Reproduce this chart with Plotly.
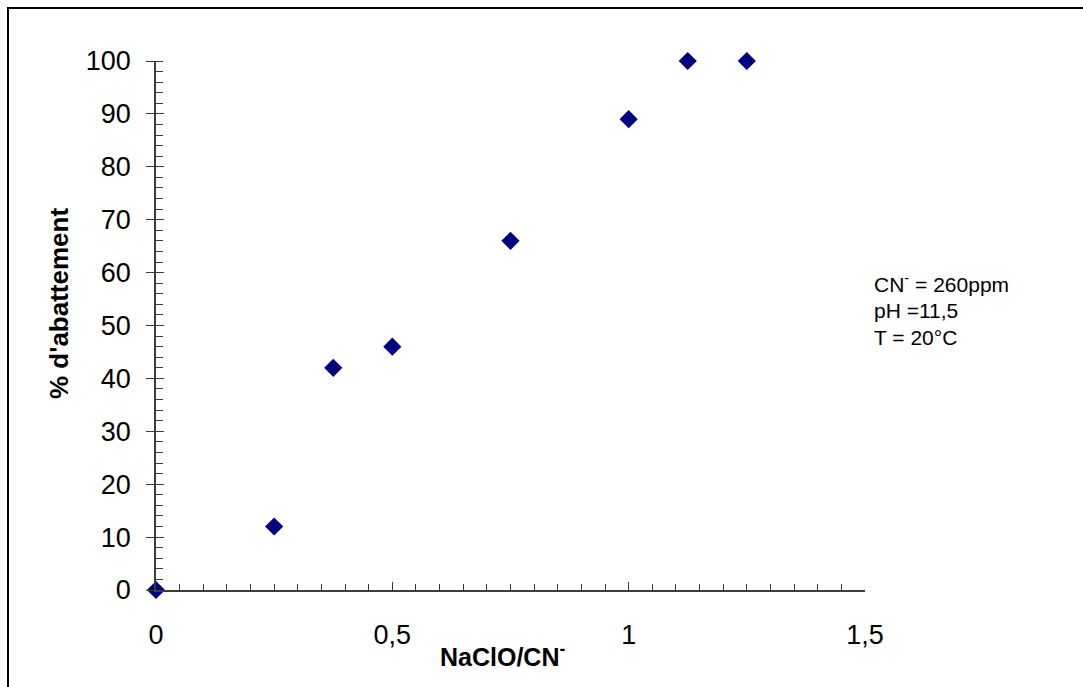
import plotly.graph_objects as go

# Oxidation ratio vs. cyanide removal
ratio = [0, 0.25, 0.375, 0.5, 0.75, 1.0, 1.125, 1.25]
abatement = [0, 12, 42, 46, 66, 89, 100, 100]

x_ticks = [0, 0.5, 1, 1.5]
y_ticks = [0, 10, 20, 30, 40, 50, 60, 70, 80, 90, 100]

W, H = 1083, 687
L, R, T, B = 156, 218, 61, 97
pw, ph = W - L - R, H - T - B

def px_x(p):
    return (p - L) / pw

def px_y(p):
    return (H - B - p) / ph

axis_col = "#3c3c3c"
font_fam = "Liberation Sans, Arial, sans-serif"

fig = go.Figure()
fig.add_trace(go.Scatter(
    x=ratio, y=abatement, mode="markers",
    marker=dict(symbol="diamond", size=14, color="#000080",
                line=dict(width=0)),
    cliponaxis=False, showlegend=False,
))
# invisible trace on the overlay axis so its ticks are drawn
fig.add_trace(go.Scatter(x=[0], y=[0], yaxis="y2", mode="markers",
                         marker=dict(opacity=0), showlegend=False,
                         hoverinfo="skip"))

fig.update_layout(
    width=W, height=H,
    margin=dict(l=L, r=R, t=T, b=B),
    paper_bgcolor="white", plot_bgcolor="white",
    separators=", ",
    font=dict(family=font_fam, color="black"),
    xaxis=dict(
        range=[0, 1.5], tickvals=x_ticks, ticks="inside", ticklen=8,
        tickcolor=axis_col, tickwidth=1,
        minor=dict(dtick=0.05, ticks="inside", ticklen=6,
                   tickcolor=axis_col, tickwidth=1),
        showline=True, linecolor=axis_col, linewidth=1.5,
        showgrid=False, zeroline=False,
        tickfont=dict(size=27), ticklabelstandoff=20,
    ),
    yaxis=dict(
        range=[0, 100], tickvals=y_ticks, ticks="outside", ticklen=8,
        tickcolor=axis_col, tickwidth=1,
        minor=dict(dtick=2, ticks="inside", ticklen=7,
                   tickcolor=axis_col, tickwidth=1),
        showline=True, linecolor=axis_col, linewidth=1.5,
        showgrid=False, zeroline=False,
        tickfont=dict(size=27), ticklabelstandoff=10,
    ),
    yaxis2=dict(
        range=[0, 100], overlaying="y", side="left",
        tickvals=y_ticks, ticks="inside", ticklen=8,
        tickcolor=axis_col, tickwidth=1, showticklabels=False,
        showgrid=False, zeroline=False, showline=False,
    ),
)

# chart frame
fig.add_shape(type="rect", xref="paper", yref="paper",
              x0=px_x(8), x1=px_x(1200), y0=px_y(800), y1=px_y(8),
              line=dict(color="black", width=2), layer="below")

# axis titles
fig.add_annotation(text="<b>NaClO/CN<sup>-</sup></b>", xref="paper", yref="paper",
                   x=px_x(502), y=px_y(655), showarrow=False,
                   font=dict(size=25, family=font_fam),
                   xanchor="center", yanchor="middle")
fig.add_annotation(text="<b>% d'abattement</b>", xref="paper", yref="paper",
                   x=px_x(59), y=px_y(304), showarrow=False, textangle=-90,
                   font=dict(size=26, family=font_fam),
                   xanchor="center", yanchor="middle")

# experimental conditions
conditions = ["CN<sup>-</sup> = 260ppm", "pH =11,5", "T = 20°C"]
for i, line in enumerate(conditions):
    fig.add_annotation(text=line, xref="paper", yref="paper",
                       x=px_x(872), y=px_y(283 + 27 * i), showarrow=False,
                       font=dict(size=21, family=font_fam),
                       xanchor="left", yanchor="middle")

fig.write_html("out.html")
